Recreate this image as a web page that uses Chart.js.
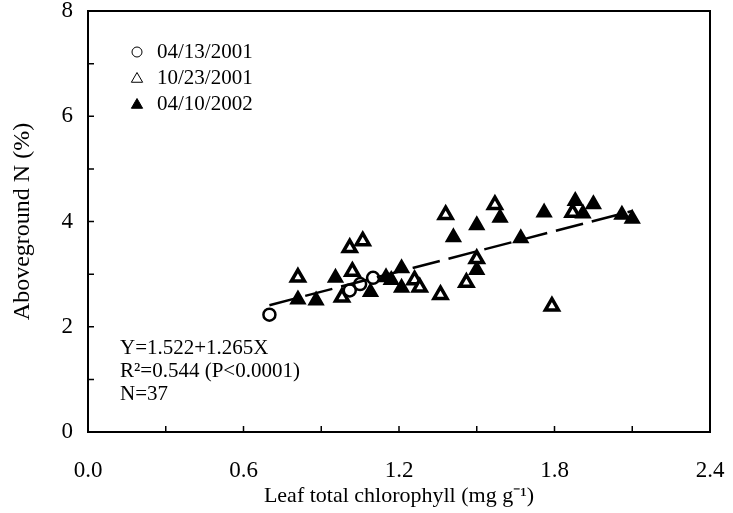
<!DOCTYPE html>
<html lang="en">
<head>
<meta charset="UTF-8">
<title>Aboveground N vs leaf total chlorophyll</title>
<script src="https://cdn.jsdelivr.net/npm/chart.js"></script>
<style>
  body { margin: 0; background: #fff; }
  #wrap { width: 733px; height: 513px; }
</style>
</head>
<body>
<div id="wrap"><canvas id="chart"></canvas></div>
<script>
// sampling dates (legend)
const dateLabels = ['04/13/2001', '10/23/2001', '04/10/2002'];

// 04/13/2001 - open circles
const apr01X = [0.70, 1.01, 1.05, 1.10];
const apr01Y = [2.23, 2.69, 2.81, 2.93];

// 10/23/2001 - open triangles
const oct01X = [0.81, 0.98, 1.01, 1.02, 1.06, 1.26, 1.28, 1.36, 1.38, 1.46, 1.50, 1.57, 1.79, 1.87];
const oct01Y = [2.94, 2.56, 3.50, 3.05, 3.63, 2.89, 2.75, 2.61, 4.13, 2.84, 3.29, 4.32, 2.39, 4.17];

// 04/10/2002 - filled triangles
const apr02X = [0.81, 0.88, 0.955, 1.09, 1.15, 1.17, 1.21, 1.21, 1.41, 1.50, 1.50, 1.59, 1.67, 1.76, 1.88, 1.91, 1.95, 2.06, 2.10];
const apr02Y = [2.52, 2.50, 2.93, 2.66, 2.94, 2.89, 3.11, 2.74, 3.70, 3.93, 3.08, 4.07, 3.68, 4.17, 4.39, 4.15, 4.33, 4.13, 4.05];

// fitted line, end points
const fitX = [0.70, 2.10];
const fitY = [2.41, 4.20];

const statsText = ['Y=1.522+1.265X', 'R\u00B2=0.544 (P<0.0001)', 'N=37'];

const xTitle = 'Leaf total chlorophyll (mg g\u207B\u00B9)';
const yTitle = 'Aboveground N (%)';

const serif = '"Liberation Serif", "Times New Roman", serif';

function toPoints(xs, ys) {
    return xs.map((v, i) => ({ x: v, y: ys[i] }));
}

// box, inward ticks, legend and statistics
const decorations = {
    id: 'decorations',
    afterDraw(chart) {
        const ctx = chart.ctx;
        const a = chart.chartArea;
        const xs = chart.scales.x, ys = chart.scales.y;
        ctx.save();
        ctx.strokeStyle = '#000';
        ctx.lineWidth = 2;
        ctx.strokeRect(a.left, a.top, a.right - a.left, a.bottom - a.top);

        ctx.lineWidth = 1.5;
        ctx.beginPath();
        ys.ticks.forEach(t => {
            const p = ys.getPixelForValue(t.value);
            ctx.moveTo(a.left, p);
            ctx.lineTo(a.left + 6, p);
        });
        xs.ticks.forEach(t => {
            const p = xs.getPixelForValue(t.value);
            ctx.moveTo(p, a.bottom);
            ctx.lineTo(p, a.bottom - 6);
        });
        ctx.stroke();

        // legend
        const marks = [
            { style: 'circle', r: 5, fill: '#fff' },
            { style: 'triangle', r: 6.5, fill: '#fff' },
            { style: 'triangle', r: 6.5, fill: '#000' }
        ];
        ctx.font = '21px ' + serif;
        ctx.textBaseline = 'middle';
        ctx.textAlign = 'left';
        dateLabels.forEach((lab, i) => {
            const yy = 52 + i * 26;
            ctx.fillStyle = marks[i].fill;
            ctx.strokeStyle = '#000';
            ctx.lineWidth = 1;
            Chart.helpers.drawPoint(ctx, { pointStyle: marks[i].style, radius: marks[i].r, borderWidth: 1, rotation: 0 }, 137, yy + (marks[i].style === 'triangle' ? 1 : 0));
            ctx.fillStyle = '#000';
            ctx.fillText(lab, 157, yy);
        });

        ctx.font = '21px ' + serif;
        statsText.forEach((s, i) => {
            ctx.fillText(s, 120, 348 + i * 23);
        });
        ctx.restore();
    }
};

new Chart(document.getElementById('chart'), {
    type: 'scatter',
    data: {
        datasets: [
            {
                label: dateLabels[0],
                data: toPoints(apr01X, apr01Y),
                pointStyle: 'circle',
                pointRadius: 6,
                borderWidth: 2.5,
                borderColor: '#000',
                backgroundColor: '#fff'
            },
            {
                label: dateLabels[1],
                data: toPoints(oct01X, oct01Y),
                pointStyle: 'triangle',
                pointRadius: 7.5,
                borderWidth: 3.5,
                borderColor: '#000',
                backgroundColor: '#fff'
            },
            {
                label: dateLabels[2],
                data: toPoints(apr02X, apr02Y),
                pointStyle: 'triangle',
                pointRadius: 7.5,
                borderWidth: 2.5,
                borderColor: '#000',
                backgroundColor: '#000'
            },
            {
                type: 'line',
                label: 'fit',
                data: toPoints(fitX, fitY),
                borderColor: '#000',
                borderWidth: 2.5,
                borderDash: [28, 9],
                pointRadius: 0,
                fill: false,
                order: -1
            }
        ]
    },
    options: {
        responsive: true,
        maintainAspectRatio: false,
        animation: false,
        layout: { padding: { top: 6, right: 23, left: 0, bottom: 0 } },
        plugins: {
            legend: { display: false },
            tooltip: { enabled: false }
        },
        scales: {
            x: {
                type: 'linear',
                min: 0,
                max: 2.4,
                grid: { display: false },
                border: { display: false },
                ticks: {
                    stepSize: 0.3,
                    padding: 17,
                    color: '#000',
                    autoSkip: false,
                    maxRotation: 0,
                    font: { family: serif, size: 23 },
                    callback: v => (Math.round(v / 0.3) % 2 === 0 ? v.toFixed(1) : '')
                },
                title: {
                    display: true,
                    text: xTitle,
                    color: '#000',
                    font: { family: serif, size: 22 },
                    padding: { top: 0, bottom: 4 }
                },
                afterFit(s) {
                    s.height = 81;
                    s.paddingLeft = 0;
                    s.paddingRight = 0;
                }
            },
            y: {
                type: 'linear',
                min: 0,
                max: 8,
                grid: { display: false },
                border: { display: false },
                ticks: {
                    stepSize: 1,
                    padding: 7,
                    color: '#000',
                    autoSkip: false,
                    font: { family: serif, size: 23 },
                    callback: v => (v % 2 === 0 ? String(v) : '')
                },
                title: {
                    display: true,
                    text: yTitle,
                    color: '#000',
                    font: { family: serif, size: 24 },
                    padding: { top: 8, bottom: 0 }
                },
                afterFit(s) {
                    s.width = 88;
                    s.paddingTop = 0;
                    s.paddingBottom = 0;
                }
            }
        }
    },
    plugins: [decorations]
});
</script>
</body>
</html>
